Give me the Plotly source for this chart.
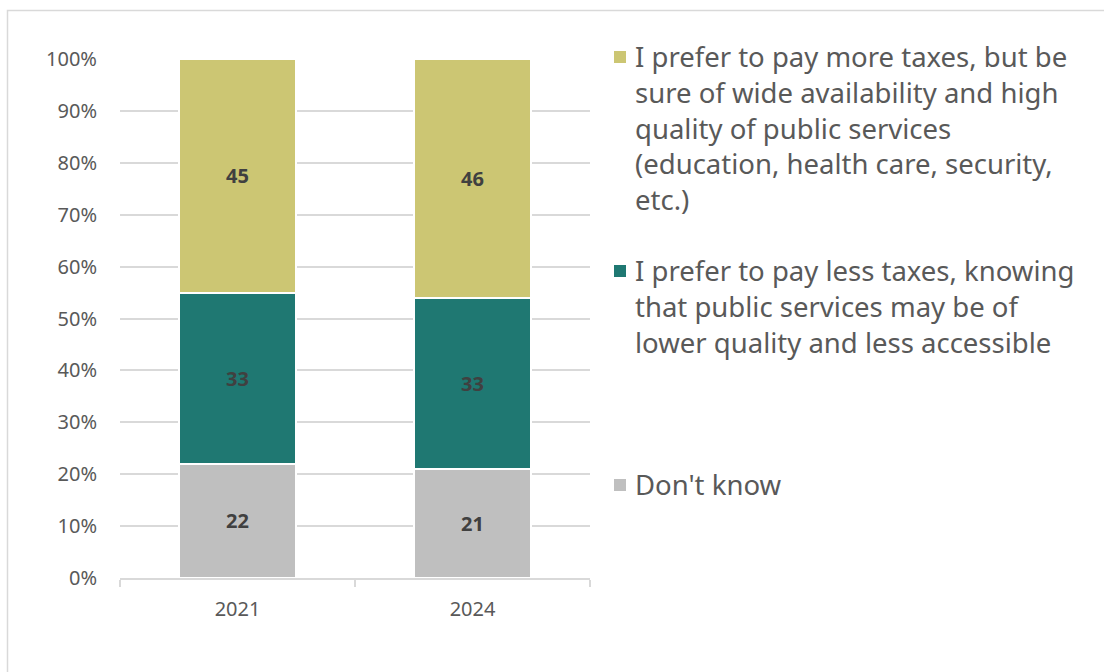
import plotly.graph_objects as go

years = ["2021", "2024"]
dont_know = [22, 21]
pay_less = [33, 33]
pay_more = [45, 46]

series_names = [
    "Don't know",
    "I prefer to pay less taxes, knowing that public services may be of lower quality and less accessible",
    "I prefer to pay more taxes, but be sure of wide availability and high quality of public services (education, health care, security, etc.)",
]
legend_lines = [
    ["Don't know"],
    ["I prefer to pay less taxes, knowing", "that public services may be of", "lower quality and less accessible"],
    ["I prefer to pay more taxes, but be", "sure of wide availability and high", "quality of public services",
     "(education, health care, security,", "etc.)"],
]
colors = ["#BFBFBF", "#1F7872", "#CCC673"]
values = [dont_know, pay_less, pay_more]

W, H = 1104, 672
L, R, T, B = 120, 590, 59, 578

def px2x(px):
    return (px - L) / (R - L)

def px2y(py):
    return (B - py) / (B - T)

fig = go.Figure()
for name, vals, col in zip(series_names, values, colors):
    fig.add_trace(go.Bar(
        x=years, y=vals, name=name,
        marker=dict(color=col, line=dict(color="white", width=2)),
        text=[str(v) for v in vals], textposition="inside", insidetextanchor="middle",
        textfont=dict(family="Noto Sans", size=20, color="#404040", weight="bold"),
        textangle=0, showlegend=False,
    ))

shapes = [dict(type="rect", xref="paper", yref="paper",
               x0=px2x(7.5), x1=px2x(1200), y0=px2y(800), y1=px2y(10.5),
               line=dict(color="#D9D9D9", width=1.5), fillcolor="rgba(0,0,0,0)", layer="below")]
annotations = []
legend_y = [485, 271, 57]
for lines, col, y0 in zip(legend_lines, colors, legend_y):
    shapes.append(dict(type="rect", xref="paper", yref="paper",
                       x0=px2x(614), x1=px2x(626), y0=px2y(y0 + 6), y1=px2y(y0 - 6),
                       fillcolor=col, line=dict(width=0)))
    annotations.append(dict(
        xref="paper", yref="paper", x=px2x(633), y=px2y(y0 - 21),
        xanchor="left", yanchor="top", align="left", showarrow=False,
        text="<br>".join(lines),
        font=dict(family="Noto Sans", size=27.5, color="#595959"),
    ))

fig.update_layout(
    width=W, height=H,
    margin=dict(l=L, r=W - R, t=T, b=H - B),
    barmode="stack", bargap=0.5,
    plot_bgcolor="white", paper_bgcolor="white",
    shapes=shapes, annotations=annotations,
    uniformtext=dict(mode="show", minsize=10),
)
fig.update_xaxes(
    type="category", showgrid=False, showline=True, linecolor="#D9D9D9", linewidth=1.5,
    ticks="outside", tickson="boundaries", ticklen=7, tickcolor="#D9D9D9", tickwidth=1.5,
    ticklabelstandoff=12,
    tickfont=dict(family="Noto Sans", size=20, color="#595959"),
)
fig.update_yaxes(
    range=[0, 100], dtick=10, ticksuffix="%", showgrid=True, gridcolor="#D9D9D9", gridwidth=1.5,
    zeroline=False, showline=False, ticklabelstandoff=22,
    tickfont=dict(family="Noto Sans", size=20, color="#595959"),
)

fig.write_html("out.html")
